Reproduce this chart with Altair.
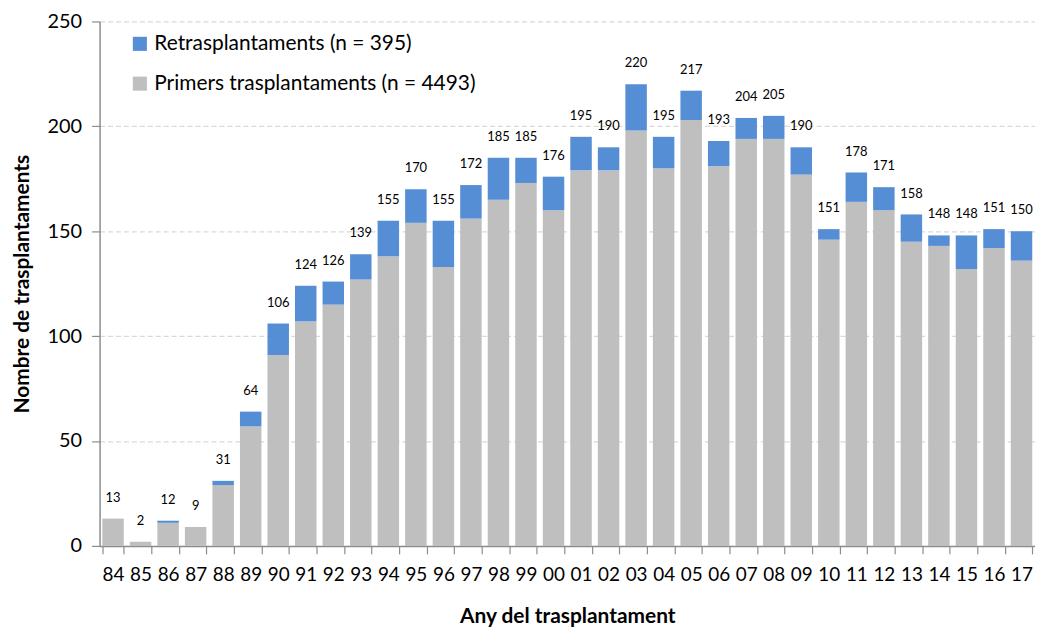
import altair as alt
import pandas as pd

years = ["84", "85", "86", "87", "88", "89", "90", "91", "92", "93", "94", "95", "96", "97",
         "98", "99", "00", "01", "02", "03", "04", "05", "06", "07", "08", "09", "10", "11",
         "12", "13", "14", "15", "16", "17"]
totals = [13, 2, 12, 9, 31, 64, 106, 124, 126, 139, 155, 170, 155, 172,
          185, 185, 176, 195, 190, 220, 195, 217, 193, 204, 205, 190, 151, 178,
          171, 158, 148, 148, 151, 150]
primers = [13, 2, 11, 9, 29, 57, 91, 107, 115, 127, 138, 154, 133, 156,
           165, 173, 160, 179, 179, 198, 180, 203, 181, 194, 194, 177, 146, 164,
           160, 145, 143, 132, 142, 136]
retr = [0, 0, 1, 0, 2, 7, 15, 17, 11, 12, 17, 16, 22, 16,
        20, 12, 16, 16, 11, 22, 15, 14, 12, 10, 11, 13, 5, 14,
        11, 13, 5, 16, 9, 14]
series = ["Retrasplantaments (n = 395)", "Primers trasplantaments (n = 4493)"]
colors = ["#558ED5", "#BFBFBF"]

rows = []
for y, p, r in zip(years, primers, retr):
    rows.append({"year": y, "series": series[1], "value": p, "ord": 0})
    rows.append({"year": y, "series": series[0], "value": r, "ord": 1})
df = pd.DataFrame(rows)
df_tot = pd.DataFrame({"year": years, "total": totals})

FONT = "Lato"

x_enc = alt.X(
    "year:N", sort=years,
    scale=alt.Scale(paddingInner=0.22, paddingOuter=0.1),
    axis=alt.Axis(title="Any del trasplantament", labelAngle=0, tickBand="extent",
                  grid=False, tickSize=8, labelPadding=12, titlePadding=21,
                  labelFontSize=19, titleFontSize=21, titleFontWeight="bold",
                  labelColor="#000", titleColor="#000"),
)

bars = alt.Chart(df).mark_bar().encode(
    x=x_enc,
    y=alt.Y("value:Q", stack="zero", scale=alt.Scale(domain=[0, 250], nice=False),
            axis=alt.Axis(title="Nombre de trasplantaments", values=[0, 50, 100, 150, 200, 250],
                          tickSize=8, labelPadding=10, titlePadding=15,
                          labelFontSize=20, titleFontSize=21, titleFontWeight="bold",
                          labelColor="#000", titleColor="#000",
                          gridColor="#d9d9d9", gridDash=[5, 3], gridWidth=1.2)),
    color=alt.Color("series:N", scale=alt.Scale(domain=series, range=colors),
                    legend=alt.Legend(title=None, orient="none", legendX=30, legendY=12,
                                      symbolType="square", symbolSize=200,
                                      symbolStrokeWidth=0, labelFontSize=21,
                                      labelColor="#000", rowPadding=18, labelLimit=500)),
    order=alt.Order("ord:Q"),
)

labels = alt.Chart(df_tot).mark_text(baseline="bottom", dy=-14, fontSize=13, color="#000", font=FONT).encode(
    x=alt.X("year:N", sort=years),
    y=alt.Y("total:Q"),
    text=alt.Text("total:Q"),
)

chart = alt.layer(bars, labels).properties(
    width=940, height=527,
    autosize=alt.AutoSizeParams(type="none"),
    padding={"left": 92, "top": 12, "right": 0, "bottom": 80},
).configure_view(stroke=None).configure_axis(
    domainColor="#8c8c8c", tickColor="#8c8c8c", domainWidth=1.5, tickWidth=1.2,
    labelFont=FONT, titleFont=FONT,
).configure_legend(labelFont=FONT)

chart.save("out.html", embed_options={"renderer": "svg", "actions": False})
